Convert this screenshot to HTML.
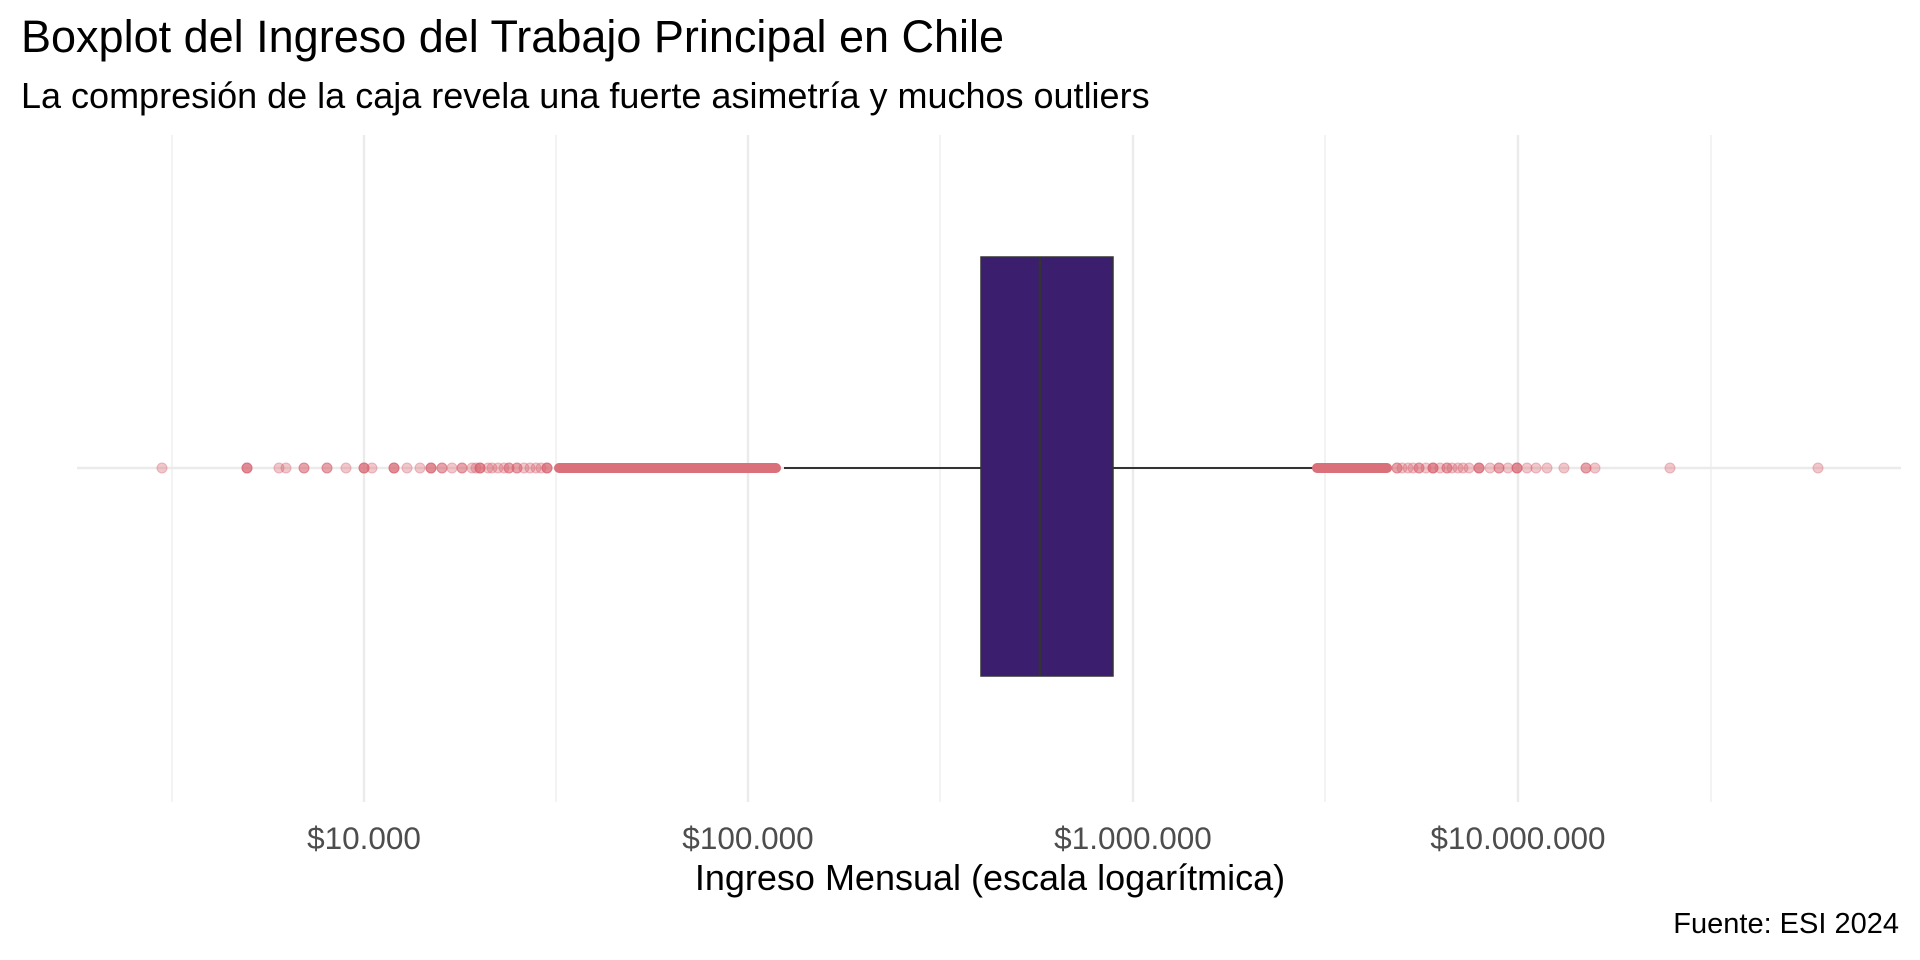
<!DOCTYPE html>
<html><head><meta charset="utf-8"><style>
body{margin:0;background:#fff;}
svg{display:block;font-family:"Liberation Sans",Arial,sans-serif;}
</style></head><body>
<svg width="1920" height="960" viewBox="0 0 1920 960" xmlns="http://www.w3.org/2000/svg">
<rect width="1920" height="960" fill="#fff"/>
<text x="21" y="52" font-size="45" fill="#000">Boxplot del Ingreso del Trabajo Principal en Chile</text>
<text x="21" y="108" font-size="36" fill="#000">La compresión de la caja revela una fuerte asimetría y muchos outliers</text>
<g stroke="#ebebeb">
<g stroke-width="1.2">
<line x1="172" y1="135" x2="172" y2="802"/><line x1="556" y1="135" x2="556" y2="802"/><line x1="940" y1="135" x2="940" y2="802"/><line x1="1325" y1="135" x2="1325" y2="802"/><line x1="1711" y1="135" x2="1711" y2="802"/>
</g>
<g stroke-width="2.4">
<line x1="364" y1="135" x2="364" y2="802"/><line x1="748" y1="135" x2="748" y2="802"/><line x1="1133" y1="135" x2="1133" y2="802"/><line x1="1518" y1="135" x2="1518" y2="802"/>
<line x1="77" y1="468" x2="1901" y2="468"/>
</g>
</g>
<g stroke="#333" stroke-width="2">
<line x1="784" y1="468" x2="981" y2="468"/><line x1="1113" y1="468" x2="1314" y2="468"/>
</g>
<rect x="981" y="257" width="132" height="419" fill="#3b1e6d" stroke="#333" stroke-width="1.5"/>
<line x1="1040" y1="257" x2="1040" y2="676" stroke="#333" stroke-width="2.6"/>
<g fill="#d8606e" fill-opacity="0.35" stroke="#d8606e" stroke-opacity="0.4">
<circle cx="162" cy="468" r="5"/>
<circle cx="247" cy="468" r="5"/><circle cx="247" cy="468" r="5"/><circle cx="247" cy="468" r="5"/>
<circle cx="279" cy="468" r="5"/><circle cx="286" cy="468" r="5"/>
<circle cx="304" cy="468" r="5"/><circle cx="304" cy="468" r="5"/>
<circle cx="327" cy="468" r="5"/><circle cx="327" cy="468" r="5"/>
<circle cx="346" cy="468" r="5"/>
<circle cx="364" cy="468" r="5"/><circle cx="364" cy="468" r="5"/><circle cx="364" cy="468" r="5"/>
<circle cx="372" cy="468" r="5"/>
<circle cx="394" cy="468" r="5"/><circle cx="394" cy="468" r="5"/><circle cx="394" cy="468" r="5"/>
<circle cx="407" cy="468" r="5"/><circle cx="420" cy="468" r="5"/>
<circle cx="431" cy="468" r="5"/><circle cx="431" cy="468" r="5"/><circle cx="431" cy="468" r="5"/>
<circle cx="442" cy="468" r="5"/><circle cx="442" cy="468" r="5"/>
<circle cx="452" cy="468" r="5"/><circle cx="462" cy="468" r="5"/><circle cx="462" cy="468" r="5"/>
<circle cx="472" cy="468" r="5"/><circle cx="476" cy="468" r="5"/>
<circle cx="480" cy="468" r="5"/><circle cx="480" cy="468" r="5"/><circle cx="480" cy="468" r="5"/>
<circle cx="488" cy="468" r="5"/><circle cx="492" cy="468" r="5"/><circle cx="498" cy="468" r="5"/>
<circle cx="504" cy="468" r="5"/><circle cx="509" cy="468" r="5"/><circle cx="509" cy="468" r="5"/><circle cx="517" cy="468" r="5"/><circle cx="517" cy="468" r="5"/>
<circle cx="524" cy="468" r="5"/><circle cx="530" cy="468" r="5"/><circle cx="536" cy="468" r="5"/><circle cx="541" cy="468" r="5"/>
<circle cx="547" cy="468" r="5"/><circle cx="547" cy="468" r="5"/><circle cx="547" cy="468" r="5"/>
<circle cx="1397" cy="468" r="5"/><circle cx="1397" cy="468" r="5"/><circle cx="1402" cy="468" r="5"/>
<circle cx="1408" cy="468" r="5"/><circle cx="1413" cy="468" r="5"/><circle cx="1419" cy="468" r="5"/><circle cx="1419" cy="468" r="5"/>
<circle cx="1426" cy="468" r="5"/><circle cx="1433" cy="468" r="5"/><circle cx="1433" cy="468" r="5"/><circle cx="1433" cy="468" r="5"/>
<circle cx="1440" cy="468" r="5"/><circle cx="1447" cy="468" r="5"/><circle cx="1447" cy="468" r="5"/><circle cx="1452" cy="468" r="5"/><circle cx="1458" cy="468" r="5"/>
<circle cx="1463" cy="468" r="5"/><circle cx="1469" cy="468" r="5"/><circle cx="1479" cy="468" r="5"/><circle cx="1479" cy="468" r="5"/><circle cx="1479" cy="468" r="5"/>
<circle cx="1490" cy="468" r="5"/><circle cx="1499" cy="468" r="5"/><circle cx="1499" cy="468" r="5"/>
<circle cx="1508" cy="468" r="5"/>
<circle cx="1517" cy="468" r="5"/><circle cx="1517" cy="468" r="5"/><circle cx="1517" cy="468" r="5"/>
<circle cx="1527" cy="468" r="5"/><circle cx="1536" cy="468" r="5"/><circle cx="1547" cy="468" r="5"/>
<circle cx="1564" cy="468" r="5"/>
<circle cx="1586" cy="468" r="5"/><circle cx="1586" cy="468" r="5"/><circle cx="1595" cy="468" r="5"/>
<circle cx="1670" cy="468" r="5"/>
<circle cx="1818" cy="468" r="5"/>
</g>
<g fill="#d9707a">
<rect x="554" y="463" width="227" height="10" rx="5"/>
<rect x="1312" y="463" width="80" height="10" rx="5"/>
</g>
<g font-size="31.5" fill="#4d4d4d" text-anchor="middle">
<text x="364" y="849">$10.000</text><text x="748" y="849">$100.000</text><text x="1133" y="849">$1.000.000</text><text x="1518" y="849">$10.000.000</text>
</g>
<text x="990" y="890" font-size="36" text-anchor="middle" fill="#000">Ingreso Mensual (escala logarítmica)</text>
<text x="1899" y="933" font-size="29" text-anchor="end" fill="#000">Fuente: ESI 2024</text>
</svg>
</body></html>
